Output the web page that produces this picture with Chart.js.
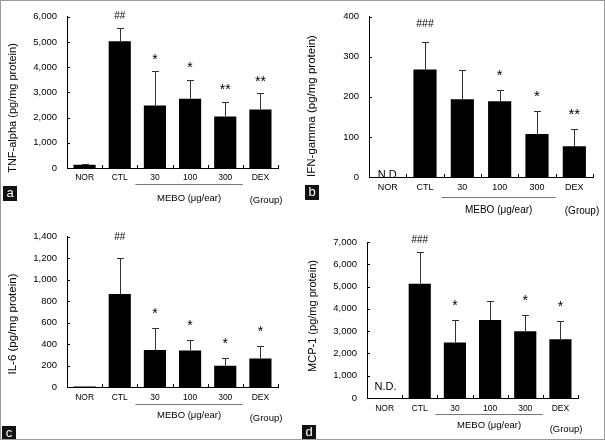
<!DOCTYPE html>
<html>
<head>
<meta charset="utf-8">
<script src="https://cdn.jsdelivr.net/npm/chart.js@4"></script>
<style>
  html, body { margin: 0; padding: 0; background: #fff; }
  #frame { position: relative; width: 605px; height: 440px; box-sizing: border-box; border: 1px solid #9a9a9a; overflow: hidden; font-family: "Liberation Sans", Arial, sans-serif; }
  canvas { position: absolute; }
  .tag { position: absolute; width: 14px; height: 15px; background: #111; color: #fff; font-size: 13px; line-height: 14px; text-align: center; }
</style>
</head>
<body>
<div id="frame">
  <canvas id="panel-a" width="300" height="220" style="left:0;top:0"></canvas>
  <canvas id="panel-b" width="300" height="220" style="left:300px;top:0"></canvas>
  <canvas id="panel-c" width="300" height="220" style="left:0;top:220px"></canvas>
  <canvas id="panel-d" width="300" height="220" style="left:300px;top:220px"></canvas>
  <div class="tag" style="left:2px;top:185px">a</div>
  <div class="tag" style="left:304px;top:184px">b</div>
  <div class="tag" style="left:1px;top:425px">c</div>
  <div class="tag" style="left:301px;top:424px">d</div>
</div>
<script>
// Groupes (axe x)
const categories = ['NOR', 'CTL', '30', '100', '300', 'DEX'];

// a — TNF-alpha
const tnfMean   = [130, 5030, 2480, 2750, 2040, 2320];
const tnfErrTop = [165, 5550, 3830, 3500, 2620, 2960];
const tnfMarks  = ['', '##', '*', '*', '**', '**'];
const tnfTicks  = [0, 1000, 2000, 3000, 4000, 5000, 6000];

// b — IFN-gamma (NOR non détecté)
const ifnMean   = [null, 268, 194, 189, 107, 77];
const ifnErrTop = [null, 337, 268, 216, 165, 119];
const ifnMarks  = ['', '###', '', '*', '*', '**'];
const ifnTicks  = [0, 100, 200, 300, 400];

// c — IL-6
const il6Mean   = [4, 866, 345, 340, 198, 265];
const il6ErrTop = [null, 1205, 550, 440, 272, 385];
const il6Marks  = ['', '##', '*', '*', '*', '*'];
const il6Ticks  = [0, 200, 400, 600, 800, 1000, 1200, 1400];

// d — MCP-1 (NOR non détecté)
const mcpMean   = [null, 5130, 2490, 3500, 2990, 2640];
const mcpErrTop = [null, 6550, 3520, 4350, 3720, 3470];
const mcpMarks  = ['', '###', '*', '', '*', '*'];
const mcpTicks  = [0, 1000, 2000, 3000, 4000, 5000, 6000, 7000];

const FONT = '"Liberation Sans", Arial, sans-serif';

/**
 * Error bars, marks, inner ticks, MEBO bracket and titles.
 */
const decorPlugin = {
    id: 'decor',
    afterDraw(chart, args, o) {
        const { ctx } = chart;
        const x = chart.scales.x;
        const y = chart.scales.y;
        const meta = chart.getDatasetMeta(0);
        ctx.save();

        // inner tick marks
        ctx.strokeStyle = '#000';
        ctx.lineWidth = 1;
        ctx.beginPath();
        o.ticks.forEach((t) => {
            const py = Math.round(y.getPixelForValue(t)) + 0.5;
            ctx.moveTo(x.left, py);
            ctx.lineTo(x.left + 3, py);
        });
        const step = (x.right - x.left) / categories.length;
        for (let i = 1; i <= categories.length; i++) {
            const px = Math.round(x.left + i * step) + 0.5;
            ctx.moveTo(px, y.bottom);
            ctx.lineTo(px, y.bottom - 3);
        }
        ctx.stroke();

        // error bars
        ctx.strokeStyle = '#333';
        ctx.beginPath();
        o.errTop.forEach((e, i) => {
            if (e == null) return;
            const bar = meta.data[i];
            const px = Math.round(bar.x) + 0.5;
            const py = Math.round(y.getPixelForValue(e)) + 0.5;
            ctx.moveTo(px, bar.y);
            ctx.lineTo(px, py);
            ctx.moveTo(px - 3.5, py);
            ctx.lineTo(px + 3.5, py);
        });
        ctx.stroke();

        // significance marks
        ctx.fillStyle = '#000';
        ctx.textAlign = 'center';
        ctx.textBaseline = 'alphabetic';
        o.marks.forEach((m, i) => {
            if (!m) return;
            const bar = meta.data[i];
            const top = y.getPixelForValue(o.errTop[i]);
            if (m[0] === '#') {
                ctx.font = o.hashSize + 'px ' + FONT;
                ctx.fillText(m, bar.x, top - o.hashGap);
            } else {
                ctx.font = o.starSize + 'px ' + FONT;
                ctx.fillText(m, bar.x, top - o.starGap);
            }
        });

        // N.D.
        if (o.ndGap != null) {
            ctx.font = o.ndSize + 'px ' + FONT;
            ctx.fillText('N.D.', x.getPixelForValue(0) + 1, y.bottom - o.ndGap);
        }

        // MEBO bracket
        const x0 = x.getPixelForValue(2) - step / 2 - 2;
        const x1 = x.getPixelForValue(4) + step / 2;
        ctx.strokeStyle = '#777';
        ctx.beginPath();
        ctx.moveTo(x0, Math.round(y.bottom + o.lineGap) + 0.5);
        ctx.lineTo(x1, Math.round(y.bottom + o.lineGap) + 0.5);
        ctx.stroke();
        ctx.textBaseline = 'middle';
        ctx.font = o.smallSize + 'px ' + FONT;
        ctx.fillText('MEBO (\u03bcg/ear)', (x0 + x1) / 2, y.bottom + o.meboGap);
        ctx.fillText('(Group)', o.groupX, y.bottom + o.groupGap);

        // y title
        ctx.translate(o.titleX, o.titleY);
        ctx.rotate(-Math.PI / 2);
        ctx.font = o.titleSize + 'px ' + FONT;
        ctx.fillText(o.title, 0, 0);
        ctx.restore();
    },
};

/**
 * Builds one panel.
 */
function makePanel(id, mean, box, decor) {
    const tickSet = decor.ticks;
    new Chart(document.getElementById(id), {
        type: 'bar',
        data: {
            labels: categories,
            datasets: [{
                data: mean,
                backgroundColor: '#000',
                borderWidth: 0,
                categoryPercentage: 1,
                barPercentage: decor.barPct,
            }],
        },
        options: {
            responsive: false,
            animation: false,
            layout: { padding: { top: box.top, right: 300 - box.right, left: 0, bottom: 0 } },
            plugins: { legend: { display: false }, tooltip: { enabled: false }, decor },
            scales: {
                x: {
                    grid: { display: false, drawTicks: false },
                    border: { color: '#000', width: 1 },
                    ticks: { color: '#000', padding: decor.catPad, font: { family: FONT, size: decor.catSize } },
                    afterFit: (s) => { s.height = 220 - box.bottom; },
                },
                y: {
                    min: tickSet[0],
                    max: tickSet[tickSet.length - 1],
                    grid: { display: false, drawTicks: false },
                    border: { color: '#000', width: 1 },
                    afterBuildTicks: (s) => { s.ticks = tickSet.map((v) => ({ value: v })); },
                    ticks: {
                        color: '#000',
                        padding: 10,
                        font: { family: FONT, size: 9.5 },
                        callback: (v) => v.toLocaleString('en-US'),
                    },
                    afterFit: (s) => { s.width = box.left; },
                },
            },
        },
        plugins: [decorPlugin],
    });
}

makePanel('panel-a', tnfMean, { left: 66, top: 12, right: 277, bottom: 167 }, {
    ticks: tnfTicks, errTop: tnfErrTop, marks: tnfMarks, barPct: 0.63,
    catSize: 8.5, catPad: 5, hashSize: 10, hashGap: 9, starSize: 14, starGap: 7.5,
    lineGap: 16, meboGap: 30, groupGap: 32, groupX: 265, smallSize: 9.5,
    title: 'TNF-alpha (pg/mg protein)', titleX: 12, titleY: 107, titleSize: 11,
});

makePanel('panel-b', ifnMean, { left: 68, top: 10, right: 292, bottom: 176 }, {
    ticks: ifnTicks, errTop: ifnErrTop, marks: ifnMarks, barPct: 0.62,
    catSize: 9, catPad: 5, hashSize: 10.5, hashGap: 15, starSize: 15, starGap: 10,
    ndGap: -1, ndSize: 11,
    lineGap: 20, meboGap: 33, groupGap: 34, groupX: 281, smallSize: 10,
    title: 'IFN-gamma (pg/mg protein)', titleX: 11, titleY: 105, titleSize: 11.5,
});

makePanel('panel-c', il6Mean, { left: 66, top: 10, right: 277, bottom: 166 }, {
    ticks: il6Ticks, errTop: il6ErrTop, marks: il6Marks, barPct: 0.63,
    catSize: 8.5, catPad: 6, hashSize: 10, hashGap: 18, starSize: 14, starGap: 9.5,
    lineGap: 17, meboGap: 28, groupGap: 31, groupX: 265, smallSize: 9.5,
    title: 'IL-6 (pg/mg protein)', titleX: 12, titleY: 103, titleSize: 11.5,
});

makePanel('panel-d', mcpMean, { left: 66, top: 21, right: 277, bottom: 177 }, {
    ticks: mcpTicks, errTop: mcpErrTop, marks: mcpMarks, barPct: 0.63,
    catSize: 8.5, catPad: 6, hashSize: 10, hashGap: 9.5, starSize: 14, starGap: 10,
    ndGap: 8, ndSize: 11,
    lineGap: 16, meboGap: 27, groupGap: 31, groupX: 265, smallSize: 9.5,
    title: 'MCP-1 (pg/mg protein)', titleX: 12, titleY: 95, titleSize: 11,
});
</script>
</body>
</html>
